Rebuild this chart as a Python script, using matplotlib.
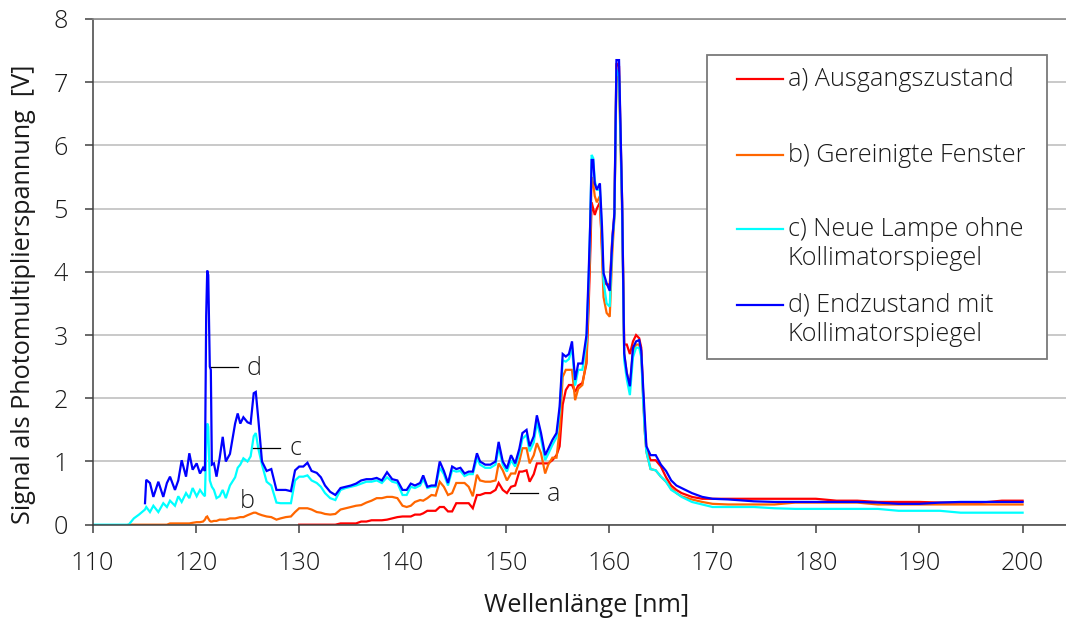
import numpy as np
import matplotlib
matplotlib.use("Agg")
import matplotlib.pyplot as plt
from matplotlib.lines import Line2D
from matplotlib.patches import Rectangle

nan = np.nan

# wavelength grid [nm]
wl = [110.0, 113.5, 114.0, 114.5, 115.08, 115.2, 115.56, 115.89, 116.37, 116.85,
      117.2, 117.5, 117.98, 118.3, 118.63, 119.05, 119.37, 119.69, 120.08, 120.4,
      120.7, 120.88, 121.0, 121.1, 121.2, 121.35, 121.45, 121.55, 121.75, 122.0,
      122.3, 122.6, 122.9, 123.3, 123.8, 124.05, 124.3, 124.6, 125.0, 125.3,
      125.6, 125.8, 126.05, 126.4, 126.85, 127.3, 127.8, 128.2, 128.7, 129.2,
      129.6, 130.0, 130.4, 130.8, 131.2, 131.7, 132.1, 132.5, 133.0, 133.5,
      134.0, 134.5, 135.0, 135.5, 136.0, 136.5, 137.0, 137.5, 138.0, 138.5,
      139.0, 139.5, 140.0, 140.4, 140.8, 141.2, 141.7, 142.0, 142.4, 142.8,
      143.2, 143.6, 144.0, 144.4, 144.8, 145.2, 145.6, 146.0, 146.4, 146.8,
      147.2, 147.5, 148.0, 148.5, 149.0, 149.3, 149.7, 150.1, 150.5, 150.9,
      151.3, 151.6, 152.0, 152.3, 152.7, 153.0, 153.4, 153.8, 154.1, 154.5,
      154.9, 155.2, 155.5, 155.8, 156.1, 156.4, 156.7, 157.0, 157.4, 157.8,
      158.0, 158.15, 158.3, 158.45, 158.6, 158.8, 159.1, 159.3, 159.45, 159.75,
      160.05, 160.3, 160.5, 160.7, 160.95, 161.1, 161.25, 161.45, 161.7, 162.0,
      162.3, 162.6, 162.9, 163.1, 163.3, 163.45, 163.6, 164.0, 164.5, 165.0,
      165.5, 166.0, 166.5, 167.0, 168.0, 169.0, 170.0, 171.5, 174.0, 176.0,
      178.0, 180.0, 182.0, 184.0, 186.0, 188.0, 190.0, 192.0, 194.0, 196.0,
      198.0, 200.0]

# a) Ausgangszustand
sig_a = [nan] * 50 + [
      nan, 0.0, 0.0, 0.0, 0.0, 0.0, 0.0, 0.0, 0.0, 0.0,
      0.02, 0.02, 0.02, 0.02, 0.05, 0.05, 0.07, 0.07, 0.07, 0.08,
      0.10, 0.12, 0.13, 0.13, 0.13, 0.16, 0.16, 0.18, 0.22, 0.22,
      0.22, 0.28, 0.28, 0.21, 0.21, 0.34, 0.34, 0.34, 0.34, 0.26,
      0.47, 0.47, 0.50, 0.50, 0.55, 0.66, 0.55, 0.50, 0.60, 0.62,
      0.84, 0.84, 0.86, 0.68, 0.80, 0.97, 0.97, 0.97, 0.97, 1.02,
      1.10, 1.24, 1.90, 2.13, 2.21, 2.21, 2.10, 2.20, 2.24, 2.55,
      3.40, 4.20, 5.10, 5.00, 4.90, 5.00, 5.10, 4.40, 3.85, 3.80,
      3.80, 4.55, 4.90, 7.30, 7.25, 6.20, 5.10, 2.85, 2.85, 2.70,
      2.90, 3.00, 2.95, 2.80, 2.00, 1.50, 1.20, 1.02, 1.02, 0.92,
      0.75, 0.62, 0.55, 0.50, 0.44, 0.41, 0.41, 0.41, 0.41, 0.41,
      0.41, 0.41, 0.38, 0.38, 0.36, 0.36, 0.36, 0.35, 0.35, 0.35,
      0.38, 0.38]

# b) Gereinigte Fenster
sig_b = [
      nan, 0.0, 0.0, 0.0, 0.0, 0.0, 0.0, 0.0, 0.0, 0.0,
      0.0, 0.02, 0.02, 0.02, 0.02, 0.02, 0.02, 0.03, 0.04, 0.04,
      0.05, 0.08, 0.12, 0.13, 0.10, 0.06, 0.05, 0.05, 0.06, 0.06,
      0.08, 0.08, 0.08, 0.10, 0.10, 0.11, 0.12, 0.12, 0.15, 0.17,
      0.19, 0.19, 0.17, 0.15, 0.13, 0.12, 0.08, 0.10, 0.12, 0.13,
      0.20, 0.26, 0.26, 0.26, 0.24, 0.20, 0.19, 0.17, 0.16, 0.17,
      0.24, 0.26, 0.28, 0.30, 0.31, 0.35, 0.38, 0.42, 0.42, 0.44,
      0.44, 0.42, 0.30, 0.28, 0.30, 0.36, 0.39, 0.38, 0.42, 0.47,
      0.46, 0.68, 0.60, 0.47, 0.50, 0.66, 0.66, 0.66, 0.60, 0.45,
      0.79, 0.70, 0.68, 0.68, 0.70, 0.97, 0.86, 0.70, 0.81, 0.81,
      1.00, 1.21, 1.21, 0.97, 1.10, 1.29, 1.13, 0.81, 0.95, 1.06,
      1.06, 1.50, 2.34, 2.45, 2.45, 2.45, 1.97, 2.15, 2.21, 2.60,
      3.60, 4.40, 5.50, 5.40, 5.20, 5.10, 5.20, 4.30, 3.60, 3.35,
      3.29, 4.30, 4.85, 7.10, 7.00, 6.00, 4.90, 2.70, 2.40, 2.20,
      2.75, 2.85, 2.85, 2.70, 1.95, 1.45, 1.15, 0.88, 0.86, 0.76,
      0.68, 0.57, 0.50, 0.45, 0.40, 0.36, 0.33, 0.32, 0.32, 0.32,
      0.35, 0.35, 0.35, 0.35, 0.32, 0.32, 0.32, 0.32, 0.32, 0.32,
      0.32, 0.32]

# c) Neue Lampe ohne Kollimatorspiegel
sig_c = [
      0.0, 0.0, 0.10, 0.16, 0.24, 0.28, 0.20, 0.30, 0.20, 0.34,
      0.28, 0.38, 0.30, 0.45, 0.36, 0.50, 0.42, 0.58, 0.45, 0.55,
      0.48, 0.45, 1.20, 1.60, 1.55, 0.70, 0.65, 0.60, 0.55, 0.42,
      0.45, 0.55, 0.42, 0.62, 0.75, 0.90, 0.95, 1.05, 1.00, 1.08,
      1.40, 1.45, 1.20, 0.95, 0.68, 0.62, 0.35, 0.34, 0.34, 0.34,
      0.70, 0.76, 0.76, 0.78, 0.70, 0.66, 0.60, 0.50, 0.42, 0.39,
      0.55, 0.58, 0.60, 0.62, 0.65, 0.68, 0.68, 0.70, 0.66, 0.75,
      0.68, 0.66, 0.47, 0.47, 0.60, 0.58, 0.62, 0.72, 0.58, 0.60,
      0.60, 0.90, 0.80, 0.62, 0.86, 0.84, 0.85, 0.77, 0.80, 0.80,
      1.05, 0.95, 0.90, 0.90, 0.95, 1.22, 0.95, 0.84, 1.02, 0.92,
      1.12, 1.36, 1.42, 1.16, 1.30, 1.62, 1.36, 1.02, 1.12, 1.26,
      1.38, 1.78, 2.60, 2.58, 2.62, 2.80, 2.20, 2.45, 2.45, 2.90,
      3.80, 4.70, 5.85, 5.80, 5.45, 5.30, 5.30, 4.60, 3.85, 3.50,
      3.45, 4.50, 4.85, 7.20, 7.10, 6.10, 5.00, 2.60, 2.30, 2.05,
      2.65, 2.80, 2.80, 2.65, 1.90, 1.45, 1.15, 0.88, 0.86, 0.76,
      0.68, 0.55, 0.50, 0.44, 0.36, 0.32, 0.28, 0.28, 0.28, 0.26,
      0.25, 0.25, 0.25, 0.25, 0.25, 0.22, 0.22, 0.22, 0.19, 0.19,
      0.19, 0.19]

# d) Endzustand mit Kollimatorspiegel
sig_d = [
      nan, nan, nan, nan, 0.34, 0.71, 0.66, 0.44, 0.68, 0.44,
      0.66, 0.76, 0.55, 0.70, 1.02, 0.76, 1.13, 0.87, 0.97, 0.81,
      0.90, 0.85, 3.30, 4.02, 3.95, 2.50, 2.45, 0.95, 0.97, 0.76,
      1.05, 1.39, 1.00, 1.12, 1.60, 1.76, 1.60, 1.70, 1.62, 1.60,
      2.08, 2.10, 1.66, 1.00, 0.85, 0.88, 0.55, 0.55, 0.55, 0.53,
      0.86, 0.92, 0.92, 0.98, 0.85, 0.82, 0.75, 0.62, 0.52, 0.47,
      0.58, 0.60, 0.62, 0.65, 0.70, 0.72, 0.72, 0.74, 0.70, 0.83,
      0.72, 0.70, 0.55, 0.55, 0.65, 0.62, 0.66, 0.78, 0.60, 0.62,
      0.62, 1.00, 0.85, 0.66, 0.92, 0.88, 0.90, 0.81, 0.84, 0.84,
      1.13, 1.00, 0.95, 0.95, 1.00, 1.31, 1.00, 0.89, 1.10, 0.97,
      1.20, 1.45, 1.50, 1.24, 1.40, 1.73, 1.45, 1.10, 1.20, 1.34,
      1.45, 1.87, 2.70, 2.66, 2.70, 2.90, 2.29, 2.55, 2.55, 3.00,
      3.93, 4.72, 5.77, 5.77, 5.40, 5.30, 5.40, 4.72, 3.98, 3.82,
      3.70, 4.50, 4.93, 7.35, 7.35, 6.24, 5.10, 2.71, 2.40, 2.19,
      2.80, 2.90, 2.92, 2.75, 2.13, 1.66, 1.24, 1.10, 1.10, 0.95,
      0.85, 0.70, 0.62, 0.58, 0.50, 0.44, 0.41, 0.40, 0.37, 0.36,
      0.36, 0.36, 0.36, 0.36, 0.35, 0.33, 0.33, 0.35, 0.36, 0.36,
      0.36, 0.36]

labels = ["a) Ausgangszustand", "b) Gereinigte Fenster",
          "c) Neue Lampe ohne\nKollimatorspiegel",
          "d) Endzustand mit\nKollimatorspiegel"]
colors = ["#ff0000", "#ff6600", "#00ffff", "#0000ff"]

plt.rcParams["font.family"] = ["Open Sans", "DejaVu Sans"]
plt.rcParams["font.weight"] = "light"
FS = 18.2
TXT = "#1a1a1a"
W, H = 1066, 620

fig = plt.figure(figsize=(W / 100, H / 100), dpi=100)
ax = fig.add_axes([92.5 / W, 1 - 524.7 / H, 1 - 92.5 / W, (524.7 - 19) / H])

for vals, col in zip([sig_a, sig_b, sig_c, sig_d], colors):
    ax.plot(wl, vals, color=col, lw=1.6, solid_joinstyle="miter")

ax.set_xlim(110, 204.2)
ax.set_ylim(0, 8)
ax.set_xticks(range(110, 201, 10))
ax.set_yticks(range(0, 9))
ax.grid(axis="y", color="#c0c0c0", lw=1.2)
ax.grid(axis="x", visible=False)
ax.set_axisbelow(True)
for s in ["left", "bottom"]:
    ax.spines[s].set_color("#404040")
    ax.spines[s].set_linewidth(1.1)
ax.spines["right"].set_visible(False)
ax.spines["top"].set_color("#8a8a8a")
ax.spines["top"].set_linewidth(1.2)
ax.tick_params(axis="both", direction="out", length=5.8, width=1.1, color="#404040",
               labelsize=FS, labelcolor=TXT)
ax.tick_params(axis="x", pad=13)
ax.tick_params(axis="y", pad=12)

ax.set_xlabel("Wellenlänge [nm]", fontsize=FS, color=TXT)
ax.set_ylabel("Signal als Photomultiplierspannung  [V]", fontsize=FS, color=TXT)
ax.xaxis.set_label_coords(0.507, -0.135)
ax.yaxis.set_label_coords(-0.058, 0.455)
ax.xaxis.label.set_va("top")

# leader lines for curve labels
ax.plot([121.45, 124.1], [2.5, 2.5], color="black", lw=0.9)
ax.text(124.95, 2.37, "d", fontsize=FS, color=TXT, va="baseline")
ax.plot([125.56, 128.14], [1.22, 1.22], color="black", lw=0.9)
ax.text(129.04, 1.10, "c", fontsize=FS, color=TXT, va="baseline")
ax.text(124.27, 0.26, "b", fontsize=FS, color=TXT, va="baseline")
ax.plot([150.39, 153.13], [0.5, 0.5], color="black", lw=0.9)
ax.text(154.0, 0.38, "a", fontsize=FS, color=TXT, va="baseline")

# legend box drawn by hand (key lines aligned with first text line)
def fx(x):
    return x / W


def fy(y):
    return 1 - y / H


fig.add_artist(Rectangle((fx(707), fy(359)), fx(1047) - fx(707), fy(55) - fy(359),
                         transform=fig.transFigure, facecolor="white",
                         edgecolor="#7a7a7a", lw=1.3, zorder=5))
rows = [79, 155, 229, 305]
for lab, col, y in zip(labels, colors, rows):
    fig.add_artist(Line2D([fx(737), fx(783)], [fy(y), fy(y)], color=col, lw=1.6,
                          transform=fig.transFigure, zorder=6))
    for k, part in enumerate(lab.split("\n")):
        fig.text(fx(788), fy(y + 29.5 * k), part, fontsize=FS, color=TXT,
                 va="center", ha="left", zorder=6)

fig.savefig("out.png", dpi=100)
